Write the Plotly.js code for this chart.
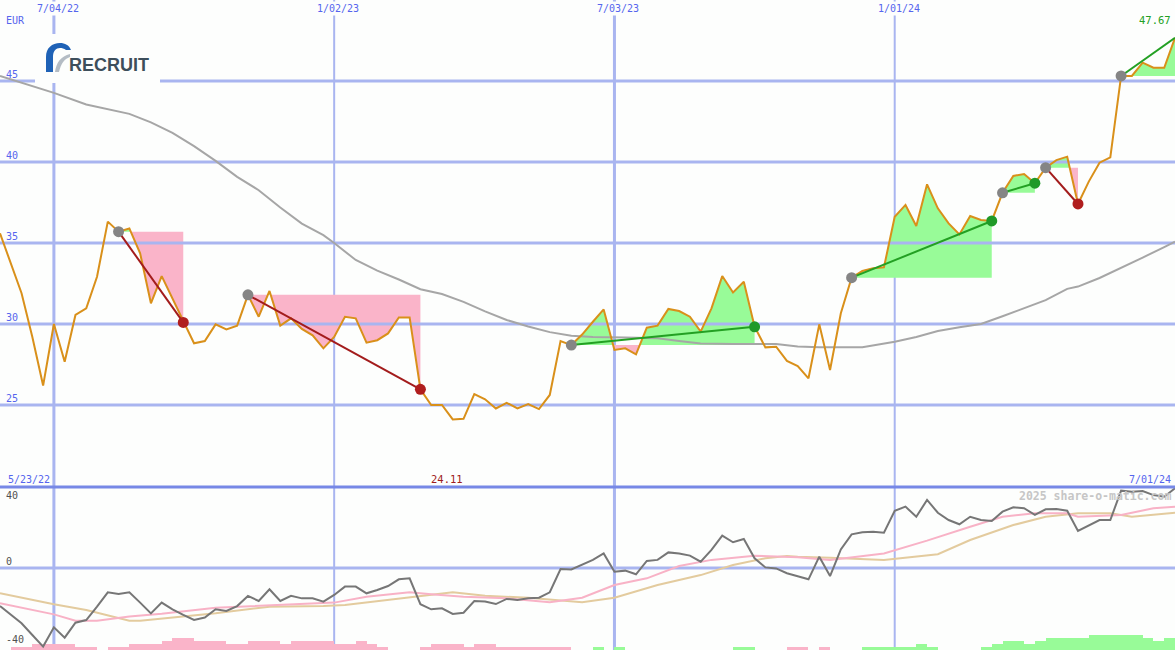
<!DOCTYPE html>
<html><head><meta charset="utf-8">
<script src="https://cdn.plot.ly/plotly-3.0.1.min.js"></script>
<style>html,body{margin:0;padding:0;background:#fdfefd}#chart{width:1175px;height:650px}</style>
</head><body><div id="chart"></div>
<script>
// ---------- DATA ----------
const startDate = '2022-05-30';      // first weekly point
const endDate = '2024-07-01';        // last weekly point
const price = [35.6,33.75,31.9,29.2,26.2,30.0,27.67,30.56,30.97,32.92,
36.32,35.7,35.9,34.36,31.28,32.96,31.58,30.1,28.81,28.95,
29.98,29.67,29.9,31.8,30.45,32.04,29.9,30.35,29.7,29.3,
28.5,29.2,30.45,30.35,28.85,29.0,29.42,30.41,30.41,25.97,
25.0,25.0,24.11,24.15,25.68,25.35,24.79,25.14,24.79,25.06,
24.75,25.62,28.95,28.7,29.35,30.14,30.9,28.4,28.5,28.13,
29.77,29.9,30.93,30.8,30.45,29.53,30.97,32.96,31.95,32.61,
29.83,28.56,28.6,27.72,27.41,26.65,29.98,27.16,30.66,32.86,
33.27,33.44,33.5,36.62,37.35,36.05,38.62,37.14,36.21,35.53,
36.67,36.42,36.36,38.1,39.14,39.26,38.69,39.65,40.12,40.33,
37.41,38.79,39.96,40.29,45.31,45.31,46.13,45.82,45.82,47.67];

const maIdx = [0,3,5,8,10,12,14,16,18,20,22,24,26,28,30,31,33,35,37,39,41,43,45,47,49,51,53,55,58,61,63,65,68,72,74,76,80,82,83,85,87,89,91,93,95,97,99,100,102,104,106,108,109];
const maVals = [45.31,44.71,44.27,43.55,43.24,42.97,42.45,41.8,40.98,40.07,39.08,38.26,37.19,36.2,35.49,35.0,33.95,33.3,32.75,32.15,31.85,31.37,30.78,30.25,29.85,29.5,29.28,29.2,29.17,29.12,28.95,28.8,28.77,28.77,28.62,28.56,28.56,28.78,28.9,29.2,29.57,29.8,30.0,30.48,30.98,31.47,32.17,32.31,32.84,33.45,34.1,34.75,35.08];

// trend segments (week indices)
const segStart = [11,23,53,79,93,97,104];
const segEnd   = [17,39,70,92,96,100,109];
const segDone  = [true,true,true,true,true,true,false];

// lower panel
const osc = [-18.8,-23.2,-27.3,-33.1,-38.8,-29.3,-34.4,-27.0,-25.7,-19.1,
-12.0,-12.8,-12.0,-17.1,-22.4,-17.1,-20.4,-23.2,-25.7,-24.5,
-20.4,-21.2,-18.8,-13.8,-16.3,-10.5,-16.3,-13.7,-15.0,-15.0,
-16.6,-13.3,-9.2,-9.2,-12.5,-10.9,-8.9,-5.6,-5.1,-17.9,
-20.4,-19.9,-22.7,-22.1,-16.3,-16.6,-17.8,-15.3,-15.8,-15.0,
-14.7,-12.0,-0.5,-0.7,1.5,4.0,7.2,-1.8,-1.3,-3.1,
3.5,4.0,7.7,7.2,6.1,3.1,8.9,16.0,12.7,14.3,
4.8,0.3,-0.2,-2.6,-4.1,-5.6,5.6,-4.0,9.2,16.6,
17.6,17.9,17.4,28.3,30.3,25.3,33.6,27.3,23.7,21.6,
25.3,23.7,23.2,27.8,30.0,29.5,26.2,29.0,29.1,28.3,
18.3,21.2,23.7,23.7,38.2,37.7,38.0,36.0,35.2,39.4];
const pinkIdx = [0,5,7,9,12,15,20,25,31,34,37,38,40,43,47,51,54,57,60,63,66,70,74,77,82,86,90,93,96,99,100,104,107,109];
const pinkVals = [-17.4,-22.9,-26.0,-26.0,-24.0,-22.6,-19.6,-18.6,-17.1,-14.2,-12.5,-12.0,-13.0,-14.2,-15.0,-16.9,-14.7,-8.4,-5.1,1.0,4.0,6.1,5.3,4.0,7.2,13.5,20.4,25.3,27.0,27.0,25.3,26.2,29.5,30.3];
const tanIdx = [0,5,8,12,13,17,20,25,30,32,37,40,42,45,49,54,57,61,65,68,71,73,74,77,82,87,90,94,97,100,103,105,109];
const tanVals = [-12.5,-17.9,-20.7,-26.0,-26.0,-24.0,-22.4,-19.1,-18.8,-18.3,-15.0,-13.0,-12.0,-13.7,-14.7,-16.9,-14.7,-8.4,-3.5,1.5,4.8,5.9,5.6,5.1,4.0,6.8,13.8,21.2,25.3,27.0,27.0,25.3,27.3];
const hist = [0,-1,-1,-2,-2,-2,-2,-1,-1,0,
-1,-1,-2,-2,-2,-3,-4,-4,-3,-3,
-3,-2,-2,-3,-3,-3,-2,-3,-3,-3,
-3,-2,-2,-3,-2,-1,0,0,0,-1,
-2,-2,-2,-1,-2,-2,-1,-1,-1,-1,
-1,-1,-1,0,0,1,0,1,0,0,
0,0,0,0,0,0,0,0,1,1,
0,0,0,-1,-1,0,-1,0,0,0,
1,1,1,1,1,2,1,0,0,0,
0,1,2,3,3,2,3,4,4,4,
4,5,5,5,5,5,4,3,4,0];

const priceTicks = [25,30,35,40,45];
const oscTicks = [40,0,-40];
const xTickDates = ['2022-07-04','2023-01-02','2023-07-03','2024-01-01'];
const xTickText = ['7/04/22','1/02/23','7/03/23','1/01/24'];
const rangeStartLabel = '5/23/22';
const rangeEndLabel = '7/01/24';

// ---------- BUILD ----------
const W = 1175, H = 650, BG = '#fdfefd';
const WEEK = 7*86400000;
const T0 = Date.parse(startDate), T1 = Date.parse(endDate);
const wx = price.map((_,k)=>T0 + k*WEEK);
const GRID = '#a9b5f0';
const MONO = 'DejaVu Sans Mono, monospace';
const px = v => v/W, py = v => 1 - v/H;
const splitY = py(487);

const traces = [];
// fills between price and segment start level
for (let i=0;i<segStart.length;i++){
  const s=segStart[i], e=segEnd[i], L=price[s];
  const xs=[], ys=[];
  for(let k=s;k<=e;k++){
    if(k>s){
      const p0=price[k-1], p1=price[k];
      if((p0-L)*(p1-L)<0){
        const t=(L-p0)/(p1-p0);
        xs.push(wx[k-1]+t*(wx[k]-wx[k-1])); ys.push(L);
      }
    }
    xs.push(wx[k]); ys.push(price[k]);
  }
  const back = xs.slice().reverse();
  const lev = xs.map(()=>L);
  traces.push({x:xs.concat(back), y:ys.map(v=>Math.max(v,L)).concat(lev), mode:'lines', fill:'toself',
    fillcolor:'#98fb98', line:{width:0}, xaxis:'x', yaxis:'y', hoverinfo:'skip'});
  traces.push({x:xs.concat(back), y:ys.map(v=>Math.min(v,L)).concat(lev), mode:'lines', fill:'toself',
    fillcolor:'#fab4c9', line:{width:0}, xaxis:'x', yaxis:'y', hoverinfo:'skip'});
}
// horizontal grid lines (main panel)
{
  const gx=[], gy=[];
  priceTicks.forEach(v=>{gx.push(T0,T1,null); gy.push(v,v,null);});
  traces.push({x:gx,y:gy,mode:'lines',line:{color:GRID,width:3},xaxis:'x',yaxis:'y',hoverinfo:'skip'});
}
// moving average
traces.push({x:maIdx.map(k=>wx[k]), y:maVals, mode:'lines', line:{color:'#a6a6a6',width:2}, xaxis:'x', yaxis:'y'});
// price
traces.push({x:wx, y:price, mode:'lines', line:{color:'#d9901a',width:2}, xaxis:'x', yaxis:'y'});
// trend lines and markers
for (let i=0;i<segStart.length;i++){
  const s=segStart[i], e=segEnd[i];
  const up = price[e] >= price[s];
  const col = up ? '#23a023' : '#a31c1c';
  traces.push({x:[wx[s],wx[e]], y:[price[s],price[e]], mode:'lines', line:{color:col,width:2}, xaxis:'x', yaxis:'y'});
  traces.push({x:[wx[s]], y:[price[s]], mode:'markers', marker:{color:'#858585',size:11}, xaxis:'x', yaxis:'y'});
  if(segDone[i]) traces.push({x:[wx[e]], y:[price[e]], mode:'markers', marker:{color: up?'#209a28':'#b01e1e',size:11}, xaxis:'x', yaxis:'y'});
}
// lower panel bars
{
  const bx=[], by=[], bc=[];
  hist.forEach((v,k)=>{ if(v!==0){ bx.push(wx[k]+WEEK/2); by.push(Math.abs(v)); bc.push(v<0?'#fab4c9':'#98fb98'); }});
  traces.push({type:'bar', x:bx, y:by, width:WEEK, marker:{color:bc, line:{width:0}}, xaxis:'x', yaxis:'y2'});
}
// lower grid zero line
traces.push({x:[T0,T1], y:[0,0], mode:'lines', line:{color:GRID,width:3}, xaxis:'x', yaxis:'y3'});
traces.push({x:tanIdx.map(k=>wx[k]), y:tanVals, mode:'lines', line:{color:'#e3cb9e',width:2}, xaxis:'x', yaxis:'y3'});
traces.push({x:pinkIdx.map(k=>wx[k]), y:pinkVals, mode:'lines', line:{color:'#f8b2c6',width:2}, xaxis:'x', yaxis:'y3'});
traces.push({x:wx, y:osc, mode:'lines', line:{color:'#767676',width:2}, xaxis:'x', yaxis:'y3'});

// shapes
const shapes = [];
xTickDates.forEach(d=>{
  const t = Date.parse(d);
  const wide = new Date(t).getUTCMonth() === 6;
  shapes.push({type:'line', xref:'x', yref:'paper', x0:t, x1:t, y0:0, y1:1, line:{color:GRID,width: wide?3:2}, layer:'below'});
});
shapes.push({type:'line', xref:'paper', yref:'paper', x0:0, x1:1, y0:splitY, y1:splitY, line:{color:'#7788e6',width:3}, layer:'above'});
// logo backdrop
shapes.push({type:'rect', xref:'paper', yref:'paper', x0:px(35), x1:px(160), y0:py(83), y1:py(34), fillcolor:BG, line:{width:0}, layer:'above'});
function pathPx(str){
  let isX=true;
  return str.split(/\s+/).map(tok=>{
    if(/^[A-Za-z]$/.test(tok)) return tok;
    const n=parseFloat(tok); const r = isX ? px(n) : py(n); isX=!isX; return r.toFixed(5);
  }).join(' ');
}
shapes.push({type:'path', xref:'paper', yref:'paper', layer:'above', fillcolor:'#1f62b6', line:{width:0},
  path: pathPx('M 46 72 L 46 57 C 46 48 52 43 60 43 C 65 43 69 45 71 50 L 66 50 C 64 48.5 62 48 60 48 C 56 48 53 51 53 57 L 53 72 Z')});
shapes.push({type:'path', xref:'paper', yref:'paper', layer:'above', fillcolor:'#b4bcc4', line:{width:0},
  path: pathPx('M 55 72 C 56 63 61 56 70 54 L 70 57 C 64 59 61 64 59 72 Z')});

// annotations
const ann = [];
const blue = '#5565ee';
xTickDates.forEach((d,i)=>ann.push({x:Date.parse(d), xref:'x', y:py(8), yref:'paper', text:xTickText[i], showarrow:false,
  xanchor:'center', yanchor:'middle', xshift:4, font:{family:MONO,size:10,color:blue}, bgcolor:BG, borderpad:1}));
ann.push({x:px(4), xref:'paper', y:py(20), yref:'paper', text:'EUR', showarrow:false, xanchor:'left', yanchor:'middle', font:{family:MONO,size:10,color:blue}});
priceTicks.forEach(v=>ann.push({x:px(4), xref:'paper', y:v, yref:'y', text:String(v), showarrow:false, xanchor:'left', yanchor:'middle', yshift:7, font:{family:MONO,size:10,color:blue}}));
const oscShift = {'40':-8,'0':6,'-40':9};
oscTicks.forEach(v=>ann.push({x:px(4), xref:'paper', y:v, yref:'y3', text:String(v), showarrow:false, xanchor:'left', yanchor:'middle', yshift:oscShift[String(v)], font:{family:MONO,size:10,color:'#505050'}}));
ann.push({x:px(6), xref:'paper', y:py(479), yref:'paper', text:rangeStartLabel, showarrow:false, xanchor:'left', yanchor:'middle', font:{family:MONO,size:10,color:blue}});
ann.push({x:px(1173), xref:'paper', y:py(479), yref:'paper', text:rangeEndLabel, showarrow:false, xanchor:'right', yanchor:'middle', font:{family:MONO,size:10,color:blue}});
// min / last price labels
let minK = 0; price.forEach((v,k)=>{ if(v<price[minK]) minK=k; });
ann.push({x:wx[minK], xref:'x', y:py(479), yref:'paper', text:price[minK].toFixed(2), showarrow:false, xanchor:'center', yanchor:'middle', xshift:-6, font:{family:MONO,size:10.5,color:'#a01c1c'}});
ann.push({x:px(1173), xref:'paper', y:py(20), yref:'paper', text:price[price.length-1].toFixed(2), showarrow:false, xanchor:'right', yanchor:'middle', font:{family:MONO,size:10.5,color:'#22a022'}});
ann.push({x:px(1173), xref:'paper', y:py(496), yref:'paper', text:'<b>2025 share-o-matic.com</b>', showarrow:false, xanchor:'right', yanchor:'middle', font:{family:MONO,size:11.5,color:'#c6c6c6'}});
ann.push({x:px(67), xref:'paper', y:py(65), yref:'paper', text:'<b>RECRUIT</b>', showarrow:false, xanchor:'left', yanchor:'middle', font:{family:'Liberation Sans, Arial, sans-serif',size:18,color:'#3d4e5b'}});

const ax = {showgrid:false, zeroline:false, showticklabels:false, ticks:'', showline:false, fixedrange:true};
const layout = {
  width:W, height:H, margin:{l:0,r:0,t:0,b:0}, paper_bgcolor:BG, plot_bgcolor:BG,
  showlegend:false, hovermode:false, bargap:0,
  xaxis:Object.assign({}, ax, {type:'date', range:[T0,T1]}),
  yaxis:Object.assign({}, ax, {domain:[splitY,1], range:[19.94,50.0]}),
  yaxis2:Object.assign({}, ax, {domain:[0,splitY], range:[0,53.5]}),
  yaxis3:Object.assign({}, ax, {overlaying:'y2', range:[-40.5,40]}),
  shapes:shapes, annotations:ann
};
Plotly.newPlot('chart', traces, layout, {staticPlot:true, displayModeBar:false});
</script></body></html>
